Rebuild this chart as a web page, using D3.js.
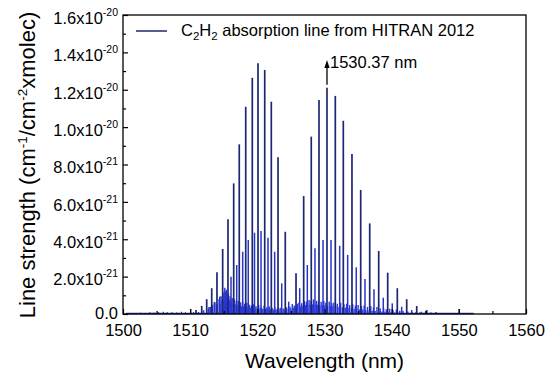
<!DOCTYPE html>
<html>
<head>
<meta charset="utf-8">
<script src="https://cdn.jsdelivr.net/npm/d3@7/dist/d3.min.js"></script>
<style>
body { margin: 0; background: #fff; }
text { font-family: Arial, "Liberation Sans", sans-serif; fill: #000; }
</style>
</head>
<body>
<svg id="chart" width="550" height="379"></svg>
<script>
// line strengths are in units of 1e-21 cm-1/(cm-2 x molec)

// strong (ortho) lines, R and P branches
var mainWl = [1510.87, 1511.72, 1512.46, 1513.21, 1513.99, 1514.84, 1515.63, 1516.48, 1517.31, 1518.27,
  1519.25, 1520.10, 1521.10, 1522.08, 1523.08, 1524.16,
  1525.76, 1526.90, 1528.03, 1529.18, 1530.37, 1531.61, 1532.80, 1534.09, 1535.39, 1536.73,
  1538.07, 1539.41, 1540.84, 1542.24, 1543.73, 1545.22, 1546.60];
var mainS = [0.21, 0.43, 0.79, 1.38, 2.23, 3.48, 5.07, 6.99, 9.08, 11.09,
  12.64, 13.42, 13.06, 11.36, 8.39, 4.40,
  2.18, 6.31, 9.49, 11.45, 12.11, 11.67, 10.34, 8.56, 6.64, 4.85,
  3.37, 2.21, 1.38, 0.79, 0.43, 0.21, 0.09];

// weaker (para) lines in between
var weakWl = [1511.25, 1512.00, 1512.80, 1513.60, 1514.40, 1515.25, 1516.08, 1516.93, 1517.82, 1518.65,
  1519.58, 1520.55, 1521.59, 1522.58, 1523.63, 1524.67,
  1526.31, 1527.44, 1528.58, 1529.78, 1530.97, 1532.26, 1533.45, 1534.73, 1536.03, 1537.37,
  1538.75, 1540.09, 1541.49, 1542.98, 1544.40, 1545.85];
var weakS = [0.10, 0.20, 0.38, 0.65, 0.93, 1.20, 2.00, 2.62, 3.33, 3.96,
  4.35, 4.44, 4.08, 3.33, 1.64, 0.66,
  1.38, 2.62, 3.52, 3.96, 3.96, 3.65, 3.16, 2.50, 1.87, 1.32,
  0.87, 0.57, 0.39, 0.21, 0.12, 0.08];

// hot band lines near the baseline
var hotWl = [1512.7, 1513.0, 1513.35, 1513.7, 1514.0, 1514.3, 1514.6, 1514.9, 1515.15, 1515.4,
  1515.7, 1515.95, 1516.25, 1516.55, 1516.85, 1517.15, 1517.5, 1517.8, 1518.1, 1518.45,
  1518.8, 1519.1, 1519.45, 1519.8, 1520.2, 1520.6, 1521.0, 1521.4, 1521.8, 1522.2,
  1522.6, 1523.0, 1523.4, 1523.85, 1524.35, 1524.85, 1525.2, 1525.5, 1525.95, 1526.2,
  1526.6, 1527.0, 1527.3, 1527.7, 1528.0, 1528.35, 1528.8, 1529.1, 1529.5, 1529.9,
  1530.2, 1530.7, 1531.1, 1531.4, 1531.9, 1532.4, 1532.9, 1533.3, 1533.75, 1534.2,
  1534.6, 1535.0, 1535.5, 1535.9, 1536.4, 1536.9, 1537.3, 1537.8, 1538.3, 1538.8,
  1539.2, 1539.7, 1540.2, 1540.7, 1541.2, 1541.7, 1542.4, 1543.0, 1543.6, 1544.2, 1544.8];
var hotS = [0.28, 0.38, 0.50, 0.62, 0.55, 0.80, 0.95, 1.15, 1.40, 1.30,
  1.10, 0.95, 0.85, 0.80, 0.72, 0.70, 0.62, 0.66, 0.55, 0.60,
  0.50, 0.46, 0.52, 0.42, 0.48, 0.38, 0.44, 0.36, 0.40, 0.34,
  0.37, 0.30, 0.34, 0.30, 0.36, 0.40, 0.54, 0.45, 0.55, 0.62,
  0.58, 0.70, 0.65, 0.75, 0.68, 0.78, 0.70, 0.72, 0.65, 0.70,
  0.60, 0.66, 0.58, 0.62, 0.55, 0.60, 0.52, 0.55, 0.48, 0.52,
  0.45, 0.48, 0.42, 0.45, 0.38, 0.42, 0.35, 0.38, 0.30, 0.33,
  0.26, 0.28, 0.22, 0.24, 0.18, 0.16, 0.14, 0.11, 0.10, 0.08, 0.07];

var hot2Wl = [1514.45, 1514.75, 1515.05, 1515.3, 1515.55, 1515.85, 1516.1, 1516.4, 1516.7, 1517.0,
  1517.35, 1517.65, 1517.95, 1518.3, 1518.6, 1518.95, 1519.3, 1519.65, 1520.0, 1520.4,
  1520.8, 1521.2, 1521.6, 1522.0, 1522.4, 1522.8, 1523.2, 1523.6, 1524.1, 1524.6,
  1525.0, 1525.35, 1525.75, 1526.4, 1526.8, 1527.15, 1527.5, 1527.85, 1528.2, 1528.6,
  1528.95, 1529.3, 1529.7, 1530.05, 1530.45, 1530.9, 1531.25, 1531.65, 1532.15, 1532.65,
  1533.1, 1533.5, 1534.0, 1534.4, 1534.8, 1535.25, 1535.7, 1536.15, 1536.65, 1537.1,
  1537.55, 1538.05, 1538.55, 1539.0, 1539.45, 1539.95, 1540.45, 1540.95];
var hot2S = [0.55, 0.70, 0.80, 0.95, 0.85, 0.75, 0.65, 0.58, 0.52, 0.48,
  0.45, 0.42, 0.40, 0.38, 0.36, 0.34, 0.32, 0.30, 0.30, 0.28,
  0.28, 0.27, 0.26, 0.25, 0.25, 0.24, 0.24, 0.22, 0.25, 0.28,
  0.30, 0.33, 0.36, 0.40, 0.45, 0.48, 0.50, 0.50, 0.52, 0.50,
  0.50, 0.48, 0.46, 0.45, 0.44, 0.42, 0.42, 0.40, 0.38, 0.36,
  0.34, 0.32, 0.30, 0.28, 0.27, 0.25, 0.24, 0.22, 0.20, 0.18,
  0.16, 0.15, 0.13, 0.12, 0.10, 0.09, 0.08, 0.07];

// far wing lines
var wingWl = [1500.5, 1501.2, 1501.9, 1502.6, 1503.3, 1504.0, 1504.6, 1505.3, 1506.0, 1506.6,
  1507.3, 1508.0, 1508.7, 1509.3, 1510.08, 1510.5,
  1547.3, 1548.0, 1548.7, 1549.4, 1550.02, 1551.0, 1552.2];
var wingS = [0.04, 0.06, 0.05, 0.07, 0.06, 0.09, 0.08, 0.10, 0.12, 0.09,
  0.10, 0.08, 0.12, 0.09, 0.25, 0.10,
  0.06, 0.05, 0.04, 0.04, 0.27, 0.03, 0.02];

var xTicks = [1500, 1510, 1520, 1530, 1540, 1550, 1560];
var xMinor = [1505, 1515, 1525, 1535, 1545, 1555];
var yTicks = [0, 2, 4, 6, 8, 10, 12, 14, 16];
var yMinor = [1, 3, 5, 7, 9, 11, 13, 15];
var yTickMant = ["0.0", "2.0x10", "4.0x10", "6.0x10", "8.0x10", "1.0x10", "1.2x10", "1.4x10", "1.6x10"];
var yTickExp = ["", "-21", "-21", "-21", "-21", "-20", "-20", "-20", "-20"];

var peakWl = 1530.37;
var peakLabel = "1530.37 nm";

var svg = d3.select("#chart");
var pLeft = 123, pRight = 526, pTop = 15, pBottom = 314;

var x = d3.scaleLinear().domain([1500, 1560]).range([pLeft, pRight]);
var y = d3.scaleLinear().domain([0, 16]).range([pBottom, pTop]);

var navy = "#1c2774";

function sticks(wl, s, color, width) {
  var g = svg.append("g");
  g.selectAll("line")
    .data(wl.map(function(w, i) { return {w: w, s: s[i]}; }))
    .enter()
    .append("line")
    .attr("x1", function(d) { return x(d.w); })
    .attr("x2", function(d) { return x(d.w); })
    .attr("y1", y(0))
    .attr("y2", function(d) { return y(d.s); })
    .attr("stroke", color)
    .attr("stroke-width", width);
}

// baseline of the stick spectrum
var allWl = mainWl.concat(weakWl, hotWl, wingWl);
var ext = d3.extent(allWl);
svg.append("line")
  .attr("x1", x(ext[0])).attr("x2", x(ext[1]))
  .attr("y1", y(0) - 0.5).attr("y2", y(0) - 0.5)
  .attr("stroke", "#2a34c8").attr("stroke-width", 1.5);

sticks(hot2Wl, hot2S, "#3340e8", 1.4);
sticks(hotWl, hotS, "#2a36e0", 1.4);
sticks(wingWl, wingS, navy, 1.1);
sticks(weakWl, weakS, "#2633cc", 1.5);
sticks(mainWl, mainS, navy, 1.7);

// frame
svg.append("rect")
  .attr("x", pLeft).attr("y", pTop)
  .attr("width", pRight - pLeft).attr("height", pBottom - pTop)
  .attr("fill", "none").attr("stroke", "#000").attr("stroke-width", 1.3);

// x axis
var xAxis = svg.append("g")
  .attr("transform", "translate(0," + pBottom + ")")
  .call(d3.axisBottom(x).tickValues(xTicks).tickFormat(d3.format("d"))
    .tickSizeInner(-5).tickSizeOuter(0).tickPadding(10));
svg.append("g")
  .attr("transform", "translate(0," + pBottom + ")")
  .call(d3.axisBottom(x).tickValues(xMinor).tickSizeInner(-3).tickSizeOuter(0).tickFormat(""));

// y axis
var yAxis = svg.append("g")
  .attr("transform", "translate(" + pLeft + ",0)")
  .call(d3.axisLeft(y).tickValues(yTicks).tickSizeInner(-5).tickSizeOuter(0).tickPadding(5));
svg.append("g")
  .attr("transform", "translate(" + pLeft + ",0)")
  .call(d3.axisLeft(y).tickValues(yMinor).tickSizeInner(-3).tickSizeOuter(0).tickFormat(""));

svg.selectAll(".domain").remove();
svg.selectAll(".tick line").attr("stroke", "#000").attr("stroke-width", 1.2);

xAxis.selectAll(".tick text")
  .attr("font-size", 16.5)
  .attr("font-family", "Arial, 'Liberation Sans', sans-serif");

yAxis.selectAll(".tick text")
  .attr("font-size", 16.5)
  .attr("font-family", "Arial, 'Liberation Sans', sans-serif")
  .text(null)
  .each(function(d, i) {
    var t = d3.select(this);
    if (yTickExp[i]) {
      t.attr("dy", "0.5em").attr("x", -5);
      t.append("tspan").text(yTickMant[i]);
      t.append("tspan").attr("font-size", 10.5).attr("dy", -8).text(yTickExp[i]);
    } else {
      t.attr("dy", "0.3em");
      t.append("tspan").text(yTickMant[i]);
    }
  });

// axis titles
svg.append("text")
  .attr("x", (pLeft + pRight) / 2).attr("y", 368)
  .attr("text-anchor", "middle")
  .attr("font-size", 21)
  .text("Wavelength (nm)");

var yt = svg.append("text")
  .attr("transform", "translate(35," + 165 + ") rotate(-90)")
  .attr("text-anchor", "middle")
  .attr("font-size", 22);
yt.append("tspan").text("Line strength (cm");
yt.append("tspan").attr("font-size", 13.5).attr("dy", -8).text("-1");
yt.append("tspan").attr("dy", 8).text("/cm");
yt.append("tspan").attr("font-size", 13.5).attr("dy", -8).text("-2");
yt.append("tspan").attr("dy", 8).text("xmolec)");

// legend
svg.append("line")
  .attr("x1", 136).attr("x2", 167).attr("y1", 31).attr("y2", 31)
  .attr("stroke", navy).attr("stroke-width", 1.5);
var lg = svg.append("text").attr("x", 181).attr("y", 36).attr("font-size", 16.5);
lg.append("tspan").text("C");
lg.append("tspan").attr("font-size", 11.5).attr("dy", 4).text("2");
lg.append("tspan").attr("dy", -4).text("H");
lg.append("tspan").attr("font-size", 11.5).attr("dy", 4).text("2");
lg.append("tspan").attr("dy", -4).text(" absorption line from HITRAN 2012");

// peak annotation
var peakS = mainS[mainWl.indexOf(peakWl)];
var px = x(peakWl);
svg.append("line")
  .attr("x1", px).attr("x2", px)
  .attr("y1", y(peakS) - 3).attr("y2", 66)
  .attr("stroke", "#000").attr("stroke-width", 1.3);
svg.append("path")
  .attr("d", "M" + (px - 2.6) + ",68 L" + px + ",60 L" + (px + 2.6) + ",68 Z")
  .attr("fill", "#000");
svg.append("text")
  .attr("x", px + 3).attr("y", 68)
  .attr("font-size", 16.5)
  .text(peakLabel);
</script>
</body>
</html>
